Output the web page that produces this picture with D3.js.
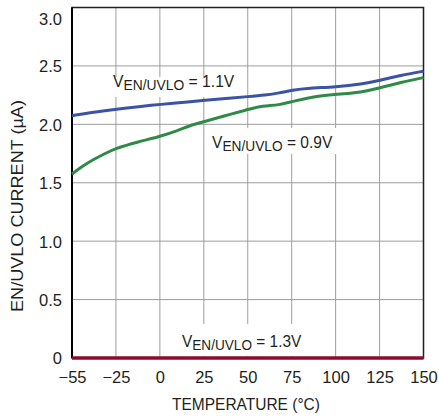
<!DOCTYPE html>
<html>
<head>
<meta charset="utf-8">
<script src="https://cdn.jsdelivr.net/npm/d3@7"></script>
<style>
  html, body { margin: 0; padding: 0; background: #fff; }
  svg { display: block; }
  text { font-family: "Liberation Sans", Arial, Helvetica, sans-serif; fill: #231f20; }
</style>
</head>
<body>
<svg id="chart" width="439" height="419"></svg>
<script>
// Temperature ticks (°C) and current ticks (µA)
const xTicks = [-55, -25, 0, 25, 50, 75, 100, 125, 150];
const xTickLabels = ["\u221255", "\u221225", "0", "25", "50", "75", "100", "125", "150"];
const yTicks = [0, 0.5, 1.0, 1.5, 2.0, 2.5, 3.0];
const yTickLabels = ["0", "0.5", "1.0", "1.5", "2.0", "2.5", "3.0"];

// V_EN/UVLO = 1.1V
const temp11 = [-55, -40, -25, -10, 0, 15, 25, 40, 50, 60, 68, 75, 85, 100, 115, 125, 137, 150];
const curr11 = [2.074, 2.105, 2.13, 2.155, 2.17, 2.19, 2.205, 2.225, 2.237, 2.25, 2.268, 2.293, 2.31, 2.32, 2.345, 2.375, 2.42, 2.455];

// V_EN/UVLO = 0.9V
const temp09 = [-55, -48, -41, -33, -25, -13, 0, 10, 17, 25, 36, 50, 56, 62, 68, 76, 90, 100, 115, 125, 137, 150];
const curr09 = [1.575, 1.64, 1.695, 1.747, 1.795, 1.848, 1.895, 1.945, 1.99, 2.022, 2.07, 2.126, 2.152, 2.16, 2.167, 2.198, 2.245, 2.255, 2.275, 2.31, 2.36, 2.40];

// V_EN/UVLO = 1.3V
const temp13 = [-55, 150];
const curr13 = [0, 0];

const svg = d3.select("#chart");
const plotL = 72, plotR = 423.5, plotT = 7.5, plotB = 358;

// The axis is evenly spaced by 25°C steps, with −55 sitting one step left of −25
const x = d3.scaleLinear().domain([-55, -25, 150]).range([plotL, plotL + (plotR - plotL) / 8, plotR]);
const y = d3.scaleLinear().domain([0, 3]).range([plotB, plotT]);

// Squeeze a text element horizontally to a given width, keeping its anchor point fixed
function condense(sel, width) {
  const node = sel.node();
  const w = node.getBBox().width;
  const ax = +sel.attr("x");
  const s = width / w;
  sel.attr("transform", `translate(${ax},0) scale(${s},1) translate(${-ax},0)`);
}

// Grid
const grid = svg.append("g").attr("stroke", "#9d9d9d").attr("stroke-width", 1);
grid.selectAll("line.v").data(xTicks.slice(1, -1)).join("line")
  .attr("x1", d => x(d)).attr("x2", d => x(d)).attr("y1", plotT).attr("y2", plotB);
grid.selectAll("line.h").data(yTicks.slice(1, -1)).join("line")
  .attr("x1", plotL).attr("x2", plotR).attr("y1", d => y(d)).attr("y2", d => y(d));

// Label backgrounds knock out the grid beneath the annotations
const boxes = svg.append("g").attr("fill", "#fff");
boxes.append("rect").attr("x", 108).attr("y", 77).attr("width", 132).attr("height", 20);
boxes.append("rect").attr("x", 206).attr("y", 128).attr("width", 133).attr("height", 26);
boxes.append("rect").attr("x", 176).attr("y", 324).attr("width", 131).attr("height", 32);

// Frame
svg.append("rect").attr("x", plotL).attr("y", plotT).attr("width", plotR - plotL).attr("height", plotB - plotT)
  .attr("fill", "none").attr("stroke", "#231f20").attr("stroke-width", 1.5);
svg.append("line").attr("x1", plotL).attr("x2", plotL).attr("y1", plotT).attr("y2", plotB)
  .attr("stroke", "#000").attr("stroke-width", 2);

// Curves
const line = d3.line().x(d => x(d[0])).y(d => y(d[1])).curve(d3.curveBasis);
const series = [
  { t: temp09, v: curr09, color: "#2f8a47", w: 3 },
  { t: temp11, v: curr11, color: "#3a53a4", w: 3 },
  { t: temp13, v: curr13, color: "#8c0c30", w: 3.5 }
];
series.forEach(s => {
  svg.append("path").datum(d3.zip(s.t, s.v)).attr("d", line)
    .attr("fill", "none").attr("stroke", s.color).attr("stroke-width", s.w)
    .attr("stroke-linecap", "butt");
});

// Axes tick labels
const xAxis = d3.axisBottom(x).tickValues(xTicks).tickSize(0).tickPadding(0)
  .tickFormat((d, i) => xTickLabels[i]);
const gx = svg.append("g").attr("transform", `translate(0,${plotB})`).call(xAxis);
gx.select(".domain").remove();
gx.selectAll("text").attr("y", 25).attr("dy", null)
  .style("font-size", "16.5px").attr("font-family", null).attr("fill", "#231f20");

const yAxis = d3.axisLeft(y).tickValues(yTicks).tickSize(0).tickPadding(10)
  .tickFormat((d, i) => yTickLabels[i]);
const gy = svg.append("g").attr("transform", `translate(${plotL},0)`).call(yAxis);
gy.select(".domain").remove();
gy.selectAll("text").style("font-size", "16.5px").attr("font-family", null).attr("fill", "#231f20")
  .attr("dy", d => d === 3 ? "1.05em" : "0.36em").attr("x", -10);

// Axis titles
const xTitle = svg.append("text").attr("x", 246).attr("y", 410).attr("text-anchor", "middle")
  .style("font-size", "16.5px").text("TEMPERATURE (\u00b0C)");
condense(xTitle, 148);
const yTitle = svg.append("g").attr("transform", "translate(23,206) rotate(-90)")
  .append("text").attr("x", 0).attr("y", 0).attr("text-anchor", "middle")
  .style("font-size", "16.5px").text("EN/UVLO CURRENT (\u00b5A)");
condense(yTitle, 212);

// Series annotations
function annot(xp, yp, val, width) {
  const t = svg.append("text").attr("x", xp).attr("y", yp).style("font-size", "17px");
  t.append("tspan").text("V");
  t.append("tspan").attr("dy", 3.5).style("font-size", "15px").text("EN/UVLO");
  t.append("tspan").attr("dy", -3.5).text(" = " + val);
  condense(t, width);
}
annot(113, 87, "1.1V", 122);
annot(212, 148, "0.9V", 121);
annot(182, 347, "1.3V", 120);
</script>
</body>
</html>
